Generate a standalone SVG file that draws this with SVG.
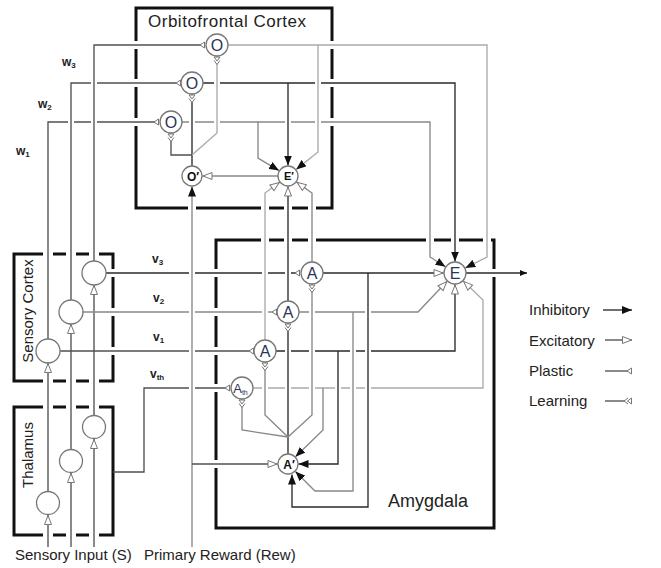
<svg xmlns="http://www.w3.org/2000/svg" width="661" height="568" viewBox="0 0 661 568">
<defs>
<style>
.box{fill:none;stroke:#111;stroke-width:3}
.gap{fill:#fff}
.ln{fill:none;stroke-width:1.35}
.k{stroke:#2a2a2a}
.d{stroke:#505050}
.g{stroke:#888}
.l{stroke:#aaa}
.node{fill:#fff;stroke:#777;stroke-width:1.3}
text{font-family:"Liberation Sans",Arial,Helvetica,sans-serif}
.lbl{fill:#2a3555;font-size:16px;text-anchor:middle}
.blb{fill:#111;font-size:12px;font-weight:bold;text-anchor:middle}
.wl{fill:#222;font-size:12px;font-weight:bold}
.title{fill:#222;font-size:17px}
.leg{fill:#222;font-size:15px}
</style>
<marker id="inh" markerWidth="10" markerHeight="8" refX="10" refY="4" orient="auto" markerUnits="userSpaceOnUse"><path d="M0,0 L10,4 L0,8 z" fill="#111"/></marker>
<marker id="inhS" markerWidth="7" markerHeight="6" refX="7" refY="3" orient="auto" markerUnits="userSpaceOnUse"><path d="M0,0 L7,3 L0,6 z" fill="#111"/></marker>
<marker id="exc" markerWidth="11" markerHeight="9" refX="10.5" refY="4.5" orient="auto" markerUnits="userSpaceOnUse"><path d="M1,1 L10,4.5 L1,8 z" fill="#fff" stroke="#777" stroke-width="1"/></marker>
<marker id="pla" markerWidth="7" markerHeight="8" refX="6.5" refY="4" orient="auto" markerUnits="userSpaceOnUse"><path d="M6,1 L1.5,4 L6,7 z" fill="#fff" stroke="#777" stroke-width="1"/></marker>
<marker id="lrn" markerWidth="10" markerHeight="8" refX="9.5" refY="4" orient="auto" markerUnits="userSpaceOnUse"><path d="M9,1 L5,4 L9,7 z M5.5,1 L1.5,4 L5.5,7" fill="#fff" stroke="#777" stroke-width="1"/></marker>
</defs>
<rect width="661" height="568" fill="#fff"/>

<!-- boxes -->
<g id="boxes">
<rect class="box" x="136" y="8" width="196" height="200"/>
<rect class="box" x="14" y="254" width="99" height="127"/>
<rect class="box" x="14" y="407" width="99" height="128"/>
<rect class="box" x="216" y="240" width="278" height="288"/>
<g class="gap">
<rect x="133" y="41" width="6" height="8"/><rect x="133" y="79" width="6" height="8"/><rect x="133" y="118" width="6" height="8"/>
<rect x="329" y="41" width="6" height="8"/><rect x="329" y="79" width="6" height="8"/><rect x="329" y="118" width="6" height="8"/>
<rect x="188" y="205" width="8" height="6"/><rect x="261" y="205" width="8" height="6"/><rect x="284" y="205" width="8" height="6"/><rect x="308" y="205" width="8" height="6"/>
<rect x="43" y="251" width="10" height="6"/><rect x="66" y="251" width="10" height="6"/><rect x="89" y="251" width="10" height="6"/>
<rect x="43" y="378" width="10" height="6"/><rect x="66" y="378" width="10" height="6"/><rect x="89" y="378" width="10" height="6"/>
<rect x="110" y="269" width="6" height="8"/><rect x="110" y="308" width="6" height="8"/><rect x="110" y="347" width="6" height="8"/>
<rect x="43" y="404" width="10" height="6"/><rect x="66" y="404" width="10" height="6"/><rect x="89" y="404" width="10" height="6"/>
<rect x="43" y="532" width="10" height="6"/><rect x="66" y="532" width="10" height="6"/><rect x="89" y="532" width="10" height="6"/>
<rect x="261" y="237" width="8" height="6"/><rect x="284" y="237" width="8" height="6"/><rect x="308" y="237" width="8" height="6"/>
<rect x="426" y="237" width="8" height="6"/><rect x="451" y="237" width="8" height="6"/><rect x="483" y="237" width="8" height="6"/>
<rect x="213" y="269" width="6" height="8"/><rect x="213" y="308" width="6" height="8"/><rect x="213" y="347" width="6" height="8"/><rect x="213" y="384" width="6" height="8"/><rect x="213" y="460" width="6" height="8"/>
<rect x="491" y="269" width="6" height="8"/>
</g>
</g>

<!-- connectors -->
<g id="connectors">
<path class="ln d" d="M48,547 V515" marker-end="url(#exc)"/>
<path class="ln d" d="M48,491 V363" marker-end="url(#exc)"/>
<path class="ln d" d="M48,339 V122 H159" marker-end="url(#pla)"/>
<rect class="gap" x="68" y="120" width="6" height="4"/><rect class="gap" x="91" y="120" width="6" height="4"/>
<path class="ln d" d="M71,547 V473" marker-end="url(#exc)"/>
<path class="ln d" d="M71,449.5 V324" marker-end="url(#exc)"/>
<path class="ln d" d="M71,300 V83 H181" marker-end="url(#pla)"/>
<rect class="gap" x="91" y="81" width="6" height="4"/>
<path class="ln d" d="M94,547 V439" marker-end="url(#exc)"/>
<path class="ln d" d="M94,415.5 V285" marker-end="url(#exc)"/>
<path class="ln d" d="M94,261 V45 H205" marker-end="url(#pla)"/>
<path class="ln g" d="M182,122 H430 V257 L445.5,266.8" marker-end="url(#inh)"/>
<path class="ln g" d="M258,122 V158 L279,170.6" marker-end="url(#inh)"/>
<rect class="gap" x="189" y="120" width="6" height="4"/><rect class="gap" x="214" y="120" width="6" height="4"/><rect class="gap" x="285" y="120" width="6" height="4"/><rect class="gap" x="315" y="120" width="6" height="4"/>
<path class="ln k" d="M203,83 H455 V261.5" marker-end="url(#inh)"/>
<path class="ln k" d="M288,83 V165.5" marker-end="url(#inh)"/>
<rect class="gap" x="214" y="81" width="6" height="4"/><rect class="gap" x="315" y="81" width="6" height="4"/>
<path class="ln l" d="M228,45 H487 V257 L465.3,267.9" marker-end="url(#inh)"/>
<path class="ln l" d="M318,45 V152 L296.2,169.4" marker-end="url(#inh)"/>
<path class="ln k" d="M192,166 V94.5" marker-end="url(#lrn)"/>
<path class="ln l" d="M192,155 L217,133 V56.5" marker-end="url(#lrn)"/>
<path class="ln d" d="M192,155 H171 V133.5" marker-end="url(#lrn)"/>
<path class="ln g" d="M278,176 H202.5" marker-end="url(#exc)"/>
<path class="ln k" d="M106,273 H300" marker-end="url(#pla)"/>
<path class="ln g" d="M83,312 H277" marker-end="url(#pla)"/>
<path class="ln d" d="M60,351 H254" marker-end="url(#pla)"/>
<path class="ln d" d="M113,472 H144 V388 H230" marker-end="url(#pla)"/>
<rect class="gap" x="189" y="271" width="6" height="4"/><rect class="gap" x="262" y="271" width="6" height="4"/><rect class="gap" x="285" y="271" width="6" height="4"/>
<rect class="gap" x="189" y="310" width="6" height="4"/><rect class="gap" x="262" y="310" width="6" height="4"/>
<rect class="gap" x="189" y="349" width="6" height="4"/><rect class="gap" x="189" y="386" width="6" height="4"/>
<path class="ln g" d="M192,547 V186.5" marker-end="url(#inh)"/>
<path class="ln d" d="M192,464 H277.5" marker-end="url(#exc)"/>
<path class="ln g" d="M312,262 V193 L296.6,182.1" marker-end="url(#exc)"/>
<path class="ln k" d="M288,301 V186.5" marker-end="url(#exc)"/>
<path class="ln l" d="M265,340 V193 L279.6,182.2" marker-end="url(#exc)"/>
<path class="ln l" d="M253,388 H483 V300 L463.3,281" marker-end="url(#exc)"/>
<path class="ln g" d="M323,388 V430 L295.5,456.7" marker-end="url(#inh)"/>
<rect class="gap" x="262" y="386" width="6" height="4"/><rect class="gap" x="285" y="386" width="6" height="4"/><rect class="gap" x="309" y="386" width="6" height="4"/><rect class="gap" x="335" y="386" width="6" height="4"/><rect class="gap" x="350" y="386" width="6" height="4"/><rect class="gap" x="365" y="386" width="6" height="4"/>
<path class="ln k" d="M276,351 H455 V284.5" marker-end="url(#exc)"/>
<path class="ln k" d="M338,351 V464 H298.5" marker-end="url(#inh)"/>
<rect class="gap" x="285" y="349" width="6" height="4"/><rect class="gap" x="309" y="349" width="6" height="4"/><rect class="gap" x="350" y="349" width="6" height="4"/><rect class="gap" x="365" y="349" width="6" height="4"/>
<path class="ln g" d="M299,312 H418 L447.1,281.3" marker-end="url(#exc)"/>
<path class="ln g" d="M353,312 V491 H315 L295.4,471.4" marker-end="url(#inh)"/>
<rect class="gap" x="309" y="310" width="6" height="4"/><rect class="gap" x="365" y="310" width="6" height="4"/>
<path class="ln k" d="M323,273 H443.5" marker-end="url(#exc)"/>
<path class="ln k" d="M368,273 V507 H292 V474.5" marker-end="url(#inh)"/>
<path class="ln k" d="M288,454 V323.5" marker-end="url(#lrn)"/>
<path class="ln g" d="M288,437 L312,415 V284.5" marker-end="url(#lrn)"/>
<path class="ln g" d="M288,437 L265,415 V362.5" marker-end="url(#lrn)"/>
<path class="ln g" d="M288,437 L242,430 V399.5" marker-end="url(#lrn)"/>
<path class="ln k" d="M466,273 H527" marker-end="url(#inhS)"/>
</g>

<!-- nodes -->
<g id="node-O3"><circle class="node" cx="217" cy="45" r="11"/><text class="lbl" x="217" y="50.8">O</text></g>
<g id="node-O2"><circle class="node" cx="192" cy="83" r="11"/><text class="lbl" x="192" y="88.8">O</text></g>
<g id="node-O1"><circle class="node" cx="171" cy="122" r="11"/><text class="lbl" x="171" y="127.8">O</text></g>
<g id="node-Oprime"><circle class="node" cx="192" cy="176" r="10"/><text class="blb" x="193" y="180.5">O′</text></g>
<g id="node-Eprime"><circle class="node" cx="288" cy="176" r="10"/><text class="blb" x="289" y="180" style="font-size:11px">E′</text></g>
<g id="node-SC3"><circle class="node" cx="94" cy="273" r="12"/></g>
<g id="node-SC2"><circle class="node" cx="71" cy="312" r="12"/></g>
<g id="node-SC1"><circle class="node" cx="48" cy="351" r="12"/></g>
<g id="node-T3"><circle class="node" cx="94" cy="427" r="11.5"/></g>
<g id="node-T2"><circle class="node" cx="71" cy="461" r="11.5"/></g>
<g id="node-T1"><circle class="node" cx="48" cy="503" r="11.5"/></g>
<g id="node-A3"><circle class="node" cx="312" cy="273" r="11"/><text class="lbl" x="312" y="278.8">A</text></g>
<g id="node-A2"><circle class="node" cx="288" cy="312" r="11"/><text class="lbl" x="288" y="317.8">A</text></g>
<g id="node-A1"><circle class="node" cx="265" cy="351" r="11"/><text class="lbl" x="265" y="356.8">A</text></g>
<g id="node-Ath"><circle class="node" cx="242" cy="388" r="11"/><text class="lbl" x="240.5" y="392.5" style="font-size:13px">A<tspan style="font-size:7px" dy="2">th</tspan></text></g>
<g id="node-Aprime"><circle class="node" cx="288" cy="464" r="10"/><text class="blb" x="289" y="468.5">A′</text></g>
<g id="node-E"><circle class="node" cx="455" cy="273" r="11"/><text class="lbl" x="455" y="278.8">E</text></g>

<!-- labels -->
<g id="labels">
<text class="title" x="148" y="27" textLength="158">Orbitofrontal Cortex</text>
<text class="title" transform="translate(33,311) rotate(-90)" text-anchor="middle" style="font-size:15px">Sensory Cortex</text>
<text class="title" transform="translate(33,455) rotate(-90)" text-anchor="middle" style="font-size:15px">Thalamus</text>
<text class="title" x="388" y="507" style="font-size:18px">Amygdala</text>
<text class="title" x="15" y="560" style="font-size:15px">Sensory Input (S)</text>
<text class="title" x="144" y="560" style="font-size:15px">Primary Reward (Rew)</text>
<text class="wl" x="62" y="66">w<tspan style="font-size:8px" dy="2">3</tspan></text>
<text class="wl" x="38" y="108">w<tspan style="font-size:8px" dy="2">2</tspan></text>
<text class="wl" x="16" y="155">w<tspan style="font-size:8px" dy="2">1</tspan></text>
<text class="wl" x="152" y="263">v<tspan style="font-size:8px" dy="2">3</tspan></text>
<text class="wl" x="153" y="302">v<tspan style="font-size:8px" dy="2">2</tspan></text>
<text class="wl" x="153" y="341">v<tspan style="font-size:8px" dy="2">1</tspan></text>
<text class="wl" x="150" y="378">v<tspan style="font-size:8px" dy="2">th</tspan></text>
</g>

<!-- legend -->
<g id="legend">
<text class="leg" x="529" y="315">Inhibitory</text>
<path class="ln k" d="M603,310 H632" marker-end="url(#inh)"/>
<text class="leg" x="529" y="346">Excitatory</text>
<path class="ln d" d="M605,340 H632" marker-end="url(#exc)"/>
<text class="leg" x="529" y="376">Plastic</text>
<path class="ln d" d="M605,371 H632" marker-end="url(#pla)"/>
<text class="leg" x="529" y="406">Learning</text>
<path class="ln d" d="M605,401 H632" marker-end="url(#lrn)"/>
</g>
</svg>
